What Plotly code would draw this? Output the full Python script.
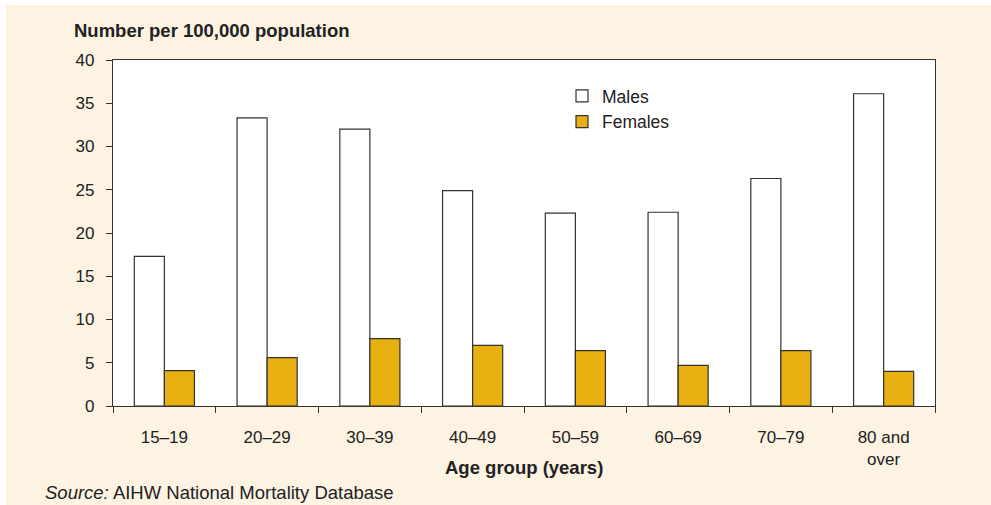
import plotly.graph_objects as go

categories = ["15–19", "20–29", "30–39", "40–49", "50–59", "60–69", "70–79", "80 and<br>over"]
males = [17.3, 33.3, 32.0, 24.9, 22.3, 22.4, 26.3, 36.1]
females = [4.1, 5.6, 7.8, 7.0, 6.4, 4.7, 6.4, 4.0]
y_ticks = [0, 5, 10, 15, 20, 25, 30, 35, 40]

W, H = 991, 505
L, R, T, B = 113, 56, 60, 99
pw, ph = W - L - R, H - T - B

def px_x(p):
    return (p - L) / pw

def px_y(p):
    return (H - B - p) / ph

FONT = "Liberation Sans, Arial, sans-serif"
TXT = "#222222"
EDGE = "#333333"

fig = go.Figure()
fig.add_trace(go.Bar(name="Males", x=categories, y=males,
                     marker=dict(color="white", line=dict(color=EDGE, width=1.2))))
fig.add_trace(go.Bar(name="Females", x=categories, y=females,
                     marker=dict(color="#E8B011", line=dict(color=EDGE, width=1.2))))

fig.update_layout(
    width=W, height=H,
    margin=dict(l=L, r=R, t=T, b=B),
    paper_bgcolor="white",
    plot_bgcolor="white",
    barmode="group",
    bargap=0.415,
    bargroupgap=0,
    font=dict(family=FONT, size=17, color=TXT),
    showlegend=True,
    legend=dict(x=px_x(562), y=px_y(78), xanchor="left", yanchor="top",
                bgcolor="rgba(0,0,0,0)", font=dict(size=17.5, color=TXT),
                tracegroupgap=0),
    shapes=[
        dict(type="rect", xref="paper", yref="paper", layer="below",
             x0=px_x(6), x1=px_x(W + 5), y0=px_y(H + 5), y1=px_y(5),
             fillcolor="#FCF3E3", line=dict(width=0)),
        dict(type="rect", xref="paper", yref="paper", layer="below",
             x0=0, x1=1, y0=0, y1=1, fillcolor="white", line=dict(width=0)),
    ],
    annotations=[
        dict(text="<b>Number per 100,000 population</b>", xref="paper", yref="paper",
             x=px_x(72), y=px_y(30), xanchor="left", yanchor="middle",
             showarrow=False, font=dict(size=18.5, color=TXT)),
        dict(text="<b>Age group (years)</b>", xref="paper", yref="paper",
             x=0.5, y=px_y(467), xanchor="center", yanchor="middle",
             showarrow=False, font=dict(size=18.5, color=TXT)),
        dict(text="<i>Source:</i> AIHW National Mortality Database", xref="paper", yref="paper",
             x=px_x(43), y=px_y(492), xanchor="left", yanchor="middle",
             showarrow=False, font=dict(size=18.5, color=TXT)),
    ],
)

fig.update_xaxes(
    showline=True, linecolor=EDGE, linewidth=1.2, mirror=True,
    ticks="outside", tickson="boundaries", ticklen=6, tickcolor=EDGE,
    tickfont=dict(size=17, color=TXT), ticklabelstandoff=15,
    showgrid=False,
)
fig.update_yaxes(
    range=[0, 40], tickvals=y_ticks, showline=True, linecolor=EDGE, linewidth=1.2, mirror=True,
    ticks="outside", ticklen=6, tickcolor=EDGE, tickfont=dict(size=17, color=TXT),
    ticklabelstandoff=8,
    showgrid=False, zeroline=False,
)

fig.write_html("out.html", config={"displayModeBar": False},
               post_script="document.body.style.margin='0';")
